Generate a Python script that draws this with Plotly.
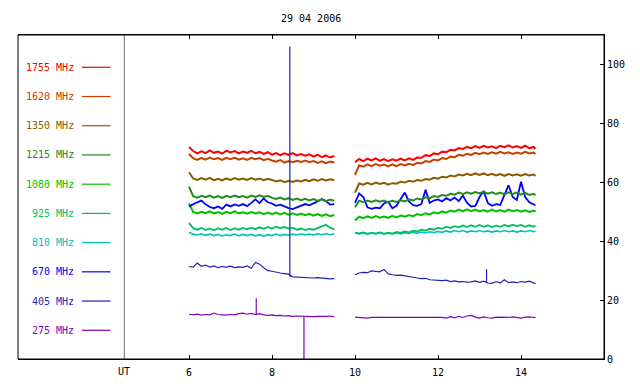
import plotly.graph_objects as go

TITLE = "29 04 2006"
FREQ_LABELS = ["1755 MHz", "1620 MHz", "1350 MHz", "1215 MHz", "1080 MHz",
               "925 MHz", "810 MHz", "670 MHz", "405 MHz", "275 MHz"]
COLORS = ["#ff0000", "#c84000", "#8b5a00", "#228b22", "#00c000",
          "#00c060", "#00c0c0", "#0000ff", "#1f1fbf", "#8000c0"]
X_TICKS = [6, 8, 10, 12, 14]
Y_TICKS = [0, 20, 40, 60, 80, 100]

TIME_LEFT = [6.0, 6.1, 6.2, 6.3, 6.4, 6.5, 6.6, 6.7, 6.8, 6.9,
             7.0, 7.1, 7.2, 7.3, 7.4, 7.5, 7.6, 7.7, 7.8, 7.9,
             8.0, 8.1, 8.2, 8.3, 8.4, 8.5, 8.6, 8.7, 8.8, 8.9,
             9.0, 9.1, 9.2, 9.3, 9.4, 9.5]
TIME_RIGHT = [10.0, 10.1, 10.2, 10.3, 10.4, 10.5, 10.6, 10.7, 10.8, 10.9,
              11.0, 11.1, 11.2, 11.3, 11.4, 11.5, 11.6, 11.7, 11.8, 11.9,
              12.0, 12.1, 12.2, 12.3, 12.4, 12.5, 12.6, 12.7, 12.8, 12.9,
              13.0, 13.1, 13.2, 13.3, 13.4, 13.5, 13.6, 13.7, 13.8, 13.9,
              14.0, 14.1, 14.2, 14.3, 14.35]

F1755_L = [72.0, 70.6, 69.8, 70.5, 69.9, 70.8, 70.0, 70.4, 69.7, 70.7,
           70.1, 70.6, 69.8, 70.4, 70.0, 70.7, 69.9, 70.3, 69.6, 70.2,
           69.4, 69.9, 69.2, 69.8, 69.3, 69.9, 69.1, 69.6, 69.0, 69.5,
           68.7, 69.4, 68.5, 69.1, 68.4, 68.9]
F1755_R = [66.8, 67.9, 67.2, 68.0, 67.4, 68.1, 67.3, 67.9, 67.2, 67.8,
           67.3, 68.0, 67.4, 68.1, 67.6, 68.4, 68.3, 69.2, 68.9, 69.8,
           69.5, 70.4, 70.2, 71.0, 70.8, 71.6, 71.3, 72.0, 71.6, 72.3,
           71.7, 72.4, 71.8, 72.2, 71.6, 72.4, 71.9, 72.5, 71.8, 72.3,
           71.7, 72.4, 71.6, 72.0, 71.4]

F1620_L = [69.6, 68.2, 67.6, 68.3, 67.7, 68.4, 67.8, 68.2, 67.6, 68.3,
           67.8, 68.4, 67.7, 68.1, 67.6, 68.3, 67.8, 68.2, 67.5, 68.0,
           67.4, 67.0, 67.5, 66.7, 67.2, 66.8, 67.3, 66.9, 67.4, 66.8,
           67.2, 66.6, 67.1, 66.5, 67.0, 66.7]
F1620_R = [62.5, 65.8, 65.3, 66.1, 65.5, 66.2, 65.6, 66.0, 65.4, 66.1,
           65.5, 66.2, 65.7, 66.3, 65.9, 66.6, 66.4, 67.2, 66.9, 67.7,
           67.4, 68.2, 67.9, 68.7, 68.5, 69.3, 69.0, 69.7, 69.3, 70.0,
           69.5, 70.1, 69.6, 70.2, 69.7, 70.3, 69.8, 70.2, 69.6, 70.1,
           69.7, 70.3, 69.8, 70.1, 69.6]

F1350_L = [63.4, 61.3, 60.8, 61.4, 60.9, 61.5, 60.7, 61.2, 60.6, 61.3,
           60.8, 61.4, 60.9, 61.3, 60.8, 61.4, 60.9, 61.3, 60.7, 61.2,
           60.8, 60.3, 60.7, 60.0, 60.5, 60.1, 60.6, 60.3, 60.8, 60.4,
           61.0, 60.5, 61.1, 60.6, 61.0, 60.7]
F1350_R = [56.5, 59.6, 59.2, 59.8, 59.3, 59.9, 59.4, 59.8, 59.2, 59.7,
           59.5, 60.2, 59.9, 60.5, 60.2, 60.8, 60.5, 61.1, 60.9, 61.5,
           61.2, 61.9, 61.6, 62.3, 62.0, 62.6, 62.3, 62.9, 62.4, 63.0,
           62.5, 63.0, 62.4, 62.9, 62.3, 62.8, 62.2, 62.8, 62.3, 62.7,
           62.2, 62.8, 62.3, 62.6, 62.2]

F1215_L = [58.5, 55.3, 54.8, 55.4, 54.9, 55.5, 54.8, 55.3, 54.7, 55.4,
           54.9, 55.5, 54.9, 55.3, 54.8, 55.5, 55.0, 55.6, 55.0, 55.4,
           54.7, 54.3, 54.8, 54.2, 54.6, 54.0, 54.5, 53.9, 54.4, 53.8,
           54.3, 53.7, 54.2, 53.6, 54.1, 53.7]
F1215_R = [51.5, 53.7, 53.2, 53.8, 53.3, 53.9, 53.4, 53.8, 53.2, 53.7,
           53.3, 53.9, 53.5, 54.2, 53.8, 54.5, 54.2, 54.9, 54.6, 55.3,
           55.0, 55.7, 55.4, 56.1, 55.8, 56.5, 56.0, 56.6, 56.1, 56.7,
           56.2, 56.8, 56.1, 56.6, 56.0, 56.5, 55.9, 56.6, 56.0, 56.5,
           55.8, 56.4, 55.7, 56.1, 55.6]

F1080_L = [52.8, 49.9, 49.4, 50.0, 49.5, 50.1, 49.4, 49.9, 49.3, 50.0,
           49.5, 50.1, 49.4, 49.8, 49.3, 49.9, 49.4, 49.8, 49.2, 49.7,
           49.2, 49.7, 49.1, 49.6, 49.0, 49.5, 48.9, 49.4, 48.8, 49.3,
           48.7, 49.2, 48.6, 49.1, 48.5, 48.9]
F1080_R = [47.0, 48.3, 47.8, 48.4, 47.9, 48.5, 48.0, 48.4, 47.9, 48.6,
           48.1, 48.7, 48.3, 48.9, 48.5, 49.2, 48.8, 49.5, 49.1, 49.8,
           49.4, 50.1, 49.7, 50.4, 50.0, 50.7, 50.2, 50.8, 50.2, 50.7,
           50.1, 50.6, 50.0, 50.7, 50.1, 50.6, 50.0, 50.7, 50.2, 50.6,
           50.0, 50.5, 49.9, 50.4, 50.0]

F925_L = [46.2, 44.4, 43.9, 44.5, 43.8, 44.3, 43.7, 44.4, 43.9, 44.5,
          43.8, 44.4, 43.9, 44.5, 44.0, 44.6, 44.1, 44.7, 44.2, 44.8,
          44.3, 44.9, 44.4, 44.8, 44.3, 44.6, 43.9, 44.3, 43.8, 44.2,
          43.9, 44.4, 45.0, 45.6, 44.6, 44.0]
F925_R = [42.9, 42.6, 43.0, 42.5, 42.9, 42.6, 43.0, 42.5, 42.9, 42.6,
          43.1, 42.8, 43.3, 43.0, 43.6, 43.3, 43.9, 43.6, 44.2, 43.9,
          44.6, 44.2, 44.9, 44.5, 45.1, 44.7, 45.3, 44.8, 45.4, 44.9,
          45.5, 44.9, 45.4, 44.8, 45.3, 44.9, 45.5, 45.0, 45.6, 45.1,
          45.5, 44.9, 45.4, 44.9, 45.3]

F810_L = [43.0, 42.4, 42.1, 42.5, 42.0, 42.4, 41.9, 42.3, 41.8, 42.2,
          41.9, 42.4, 41.8, 42.3, 41.9, 42.3, 41.8, 42.2, 41.7, 42.2,
          41.9, 42.4, 41.9, 42.3, 42.0, 42.4, 42.1, 42.5, 42.1, 42.4,
          42.1, 42.5, 42.2, 42.5, 42.2, 42.5]
F810_R = [42.9, 42.5, 42.9, 42.4, 42.8, 42.5, 42.9, 42.4, 42.8, 42.5,
          42.9, 42.5, 42.9, 42.6, 43.0, 42.7, 43.1, 42.8, 43.2, 42.9,
          43.3, 43.0, 43.5, 43.1, 43.6, 43.2, 43.6, 43.1, 43.5, 43.2,
          43.6, 43.2, 43.5, 43.1, 43.5, 43.2, 43.6, 43.2, 43.5, 43.1,
          43.5, 43.2, 43.6, 43.2, 43.4]

F670_L = [51.8, 52.6, 53.2, 53.8, 52.5, 51.6, 51.2, 51.8, 51.0, 52.4,
          51.8, 52.5, 52.0, 52.6, 51.9, 53.0, 54.2, 53.0, 54.5, 53.2,
          52.8, 52.0, 52.4, 51.8, 51.2, 50.9, 51.5, 52.0, 52.6, 52.2,
          52.8, 53.5, 54.3, 53.6, 52.4, 52.6]
F670_R = [53.0, 56.2, 55.0, 51.5, 51.0, 51.4, 51.2, 52.8, 53.4, 51.2,
          52.0, 54.5, 56.5, 53.5, 52.2, 52.0, 52.6, 57.5, 53.0, 53.8,
          54.2, 53.5, 54.6, 53.8, 54.8, 53.6, 55.5, 53.0, 51.8, 52.0,
          55.0, 57.0, 53.0, 52.0, 52.6, 52.3, 55.5, 59.0, 55.0, 54.0,
          60.2, 55.0, 53.2, 52.4, 52.2]

F405_L = [31.4, 31.2, 32.6, 31.5, 31.9, 31.2, 31.6, 31.0, 31.4, 31.2,
          31.5, 31.0, 31.3, 31.1, 31.6, 30.8, 32.8, 32.2, 31.0, 30.0,
          29.8, 29.4, 29.2, 29.0, 28.8, 27.9, 27.8, 27.9, 27.6, 27.7,
          27.5, 27.6, 27.4, 27.4, 27.2, 27.3]
F405_R = [28.6, 29.2, 29.4, 29.3, 29.9, 29.8, 29.6, 30.4, 28.9, 28.6,
          28.4, 28.5, 28.2, 28.1, 27.8, 27.5, 27.3, 27.4, 26.9, 26.8,
          26.9, 26.6, 26.8, 26.3, 26.5, 26.2, 26.3, 26.1, 26.2, 26.5,
          26.0, 26.4, 25.8, 25.7, 26.3, 25.8, 26.9, 25.9, 26.2, 25.9,
          26.3, 26.1, 26.4, 26.0, 25.6]

F275_L = [15.2, 15.0, 15.2, 14.9, 15.1, 15.0, 15.6, 15.1, 15.0, 14.9,
          15.1, 15.0, 15.4, 15.6, 15.2, 15.5, 15.1, 15.4, 15.0, 14.8,
          15.0, 14.7, 14.8, 14.6, 14.7, 14.5, 14.6, 14.5, 14.4, 14.5,
          14.4, 14.5, 14.4, 14.5, 14.6, 14.4]
F275_R = [14.2, 14.1, 14.1, 13.9, 14.1, 14.0, 14.1, 14.1, 14.2, 14.1,
          14.1, 14.1, 14.1, 14.1, 14.1, 14.1, 14.2, 14.1, 14.1, 14.1,
          14.1, 14.1, 13.9, 14.4, 14.0, 14.5, 14.1, 14.6, 14.8, 14.2,
          13.9, 14.3, 14.0, 13.9, 14.2, 14.1, 14.0, 14.1, 14.3, 14.2,
          13.9, 14.2, 14.3, 14.1, 14.1]

# short spikes (time, value) drawn as vertical strokes
SPIKE405_T = [8.43, 8.43, 8.43, None, 13.17, 13.17, 13.17]
SPIKE405_V = [28.8, 106.0, 27.9, None, 26.0, 30.5, 26.0]
SPIKE275_T = [7.62, 7.62, 7.62, None, 8.77, 8.77, 8.77]
SPIKE275_V = [15.2, 20.6, 15.0, None, 14.5, 0.0, 14.5]

SERIES = [(F1755_L, F1755_R), (F1620_L, F1620_R), (F1350_L, F1350_R),
          (F1215_L, F1215_R), (F1080_L, F1080_R), (F925_L, F925_R),
          (F810_L, F810_R), (F670_L, F670_R), (F405_L, F405_R),
          (F275_L, F275_R)]
WIDTHS = [2.0, 2.0, 2.0, 2.0, 2.0, 1.8, 1.6, 1.8, 1.2, 1.2]

FONT = "DejaVu Sans Mono"
OFF = 8                      # page body margin
W, H = 640 - OFF, 384 - OFF
# frame in window pixels: left 18, right 604, top 35, bottom 359
ML, MT = 18 - OFF, 35 - OFF
MR, MB = W - (604 - OFF), H - (359 - OFF)
PW, PH = W - ML - MR, H - MT - MB


def px(x):
    return (x - OFF - ML) / PW


def py(y):
    return (H - MB - (y - OFF)) / PH


fig = go.Figure()

order = [9, 8, 6, 5, 4, 7, 3, 2, 1, 0]
for i in order:
    left, right = SERIES[i]
    fig.add_trace(go.Scatter(
        x=TIME_LEFT + [None] + TIME_RIGHT,
        y=left + [None] + right,
        mode="lines", line=dict(color=COLORS[i], width=WIDTHS[i]),
        showlegend=False, hoverinfo="skip"))

fig.add_trace(go.Scatter(x=SPIKE405_T, y=SPIKE405_V, mode="lines",
                         line=dict(color=COLORS[8], width=1.2),
                         showlegend=False, hoverinfo="skip"))
fig.add_trace(go.Scatter(x=SPIKE275_T, y=SPIKE275_V, mode="lines",
                         line=dict(color=COLORS[9], width=1.2),
                         showlegend=False, hoverinfo="skip"))

shapes = []
annotations = []
row_y0, row_step = 67.3, 29.22
for k, (lab, col) in enumerate(zip(FREQ_LABELS, COLORS)):
    yy = py(row_y0 + k * row_step)
    shapes.append(dict(type="line", xref="paper", yref="paper",
                       x0=px(82), x1=px(110.5), y0=yy, y1=yy,
                       line=dict(color=col, width=1.2)))
    annotations.append(dict(text=lab, xref="paper", yref="paper",
                            x=px(76), y=yy, xanchor="right", yanchor="middle",
                            showarrow=False, font=dict(family=FONT, size=10, color=col)))

shapes.append(dict(type="line", xref="paper", yref="paper",
                   x0=px(124.3), x1=px(124.3), y0=0, y1=1,
                   line=dict(color="#707070", width=1)))
annotations.append(dict(text="UT", xref="paper", yref="paper",
                        x=px(124.3), y=py(371.5), xanchor="center", yanchor="middle",
                        showarrow=False, font=dict(family=FONT, size=10, color="black")))
shapes.append(dict(type="rect", xref="paper", yref="paper", x0=0, x1=1, y0=0, y1=1,
                   line=dict(color="black", width=1)))

annotations.append(dict(text=TITLE, xref="paper", yref="paper", x=0.5, y=py(18.5),
                        xanchor="center", yanchor="middle", showarrow=False,
                        font=dict(family=FONT, size=10, color="black")))

x_min = 16 - PW / 41.5
fig.update_layout(
    width=W, height=H,
    margin=dict(l=ML, r=MR, t=MT, b=MB, autoexpand=False),
    paper_bgcolor="white", plot_bgcolor="white",
    shapes=shapes, annotations=annotations,
    font=dict(family=FONT, size=10, color="black"),
    xaxis=dict(range=[x_min, 16], tickvals=X_TICKS, ticks="inside", ticklen=4,
               tickcolor="black", showgrid=False, zeroline=False,
               showline=True, linecolor="black", mirror="ticks",
               ticklabelstandoff=4, automargin=False,
               tickfont=dict(family=FONT, size=10, color="black"), fixedrange=True),
    yaxis=dict(range=[0, 110], tickvals=Y_TICKS, side="right", ticks="inside",
               ticklen=4, tickcolor="black", showgrid=False, zeroline=False,
               showline=True, linecolor="black", automargin=False,
               tickfont=dict(family=FONT, size=10, color="black"), fixedrange=True),
)

fig.write_html("out.html")
